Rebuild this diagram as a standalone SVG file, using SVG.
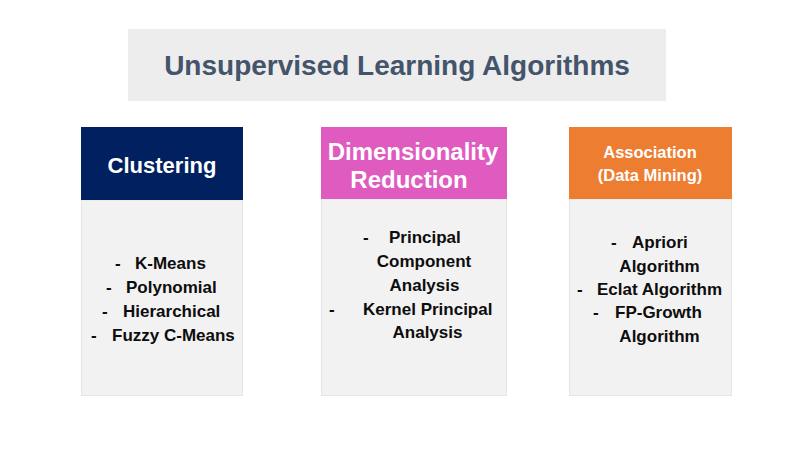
<svg xmlns="http://www.w3.org/2000/svg" width="800" height="450" viewBox="0 0 800 450">
<style>
.hdr{font-family:"Liberation Sans",Arial,sans-serif;font-weight:bold;fill:#ffffff;text-anchor:middle}
.item{font-family:"Liberation Sans",Arial,sans-serif;font-weight:bold;font-size:17px;fill:#0d0d0d}
.mid{text-anchor:middle}
.body{fill:#f2f2f2;stroke:#e4e4e4;stroke-width:1}
</style>
<rect x="0" y="0" width="800" height="450" fill="#ffffff"/>
<g id="title">
<rect x="128" y="29" width="538" height="72" fill="#ededed"/>
<text x="397" y="75" font-family="Liberation Sans, Arial, sans-serif" font-weight="bold" font-size="28" fill="#44546a" text-anchor="middle">Unsupervised Learning Algorithms</text>
</g>
<g id="connectors"></g>
<g id="clustering">
<rect class="body" x="81.5" y="200" width="161" height="195.5"/>
<rect x="81" y="127" width="162" height="73" fill="#002060"/>
<text class="hdr" x="162" y="173" font-size="22">Clustering</text>
<text class="item" x="115" y="269">-</text>
<text class="item" x="135" y="269">K-Means</text>
<text class="item" x="106" y="293">-</text>
<text class="item" x="126" y="293">Polynomial</text>
<text class="item" x="102" y="317">-</text>
<text class="item" x="123" y="317">Hierarchical</text>
<text class="item" x="91" y="341">-</text>
<text class="item" x="112" y="341">Fuzzy C-Means</text>
</g>
<g id="dimensionality">
<rect class="body" x="321.5" y="199" width="185" height="196.5"/>
<rect x="321" y="127" width="186" height="72" fill="#df5bbf"/>
<text class="hdr" x="413" y="160" font-size="24">Dimensionality</text>
<text class="hdr" x="409" y="188" font-size="24">Reduction</text>
<text class="item" x="363" y="243">-</text>
<text class="item" x="389" y="243">Principal</text>
<text class="item mid" x="424" y="267">Component</text>
<text class="item mid" x="424.5" y="291">Analysis</text>
<text class="item" x="329" y="315">-</text>
<text class="item" x="363" y="315">Kernel Principal</text>
<text class="item mid" x="427.5" y="338">Analysis</text>
</g>
<g id="association">
<rect class="body" x="569.5" y="199" width="162" height="196.5"/>
<rect x="569" y="127" width="163" height="72" fill="#ed7d31"/>
<text class="hdr" x="650" y="158" font-size="16.5">Association</text>
<text class="hdr" x="650" y="181" font-size="16.5">(Data Mining)</text>
<text class="item" x="611" y="248">-</text>
<text class="item" x="632" y="248">Apriori</text>
<text class="item mid" x="659.5" y="272">Algorithm</text>
<text class="item" x="577" y="295">-</text>
<text class="item" x="597" y="295">Eclat Algorithm</text>
<text class="item" x="593" y="318">-</text>
<text class="item" x="615" y="318">FP-Growth</text>
<text class="item mid" x="659.5" y="342">Algorithm</text>
</g>
</svg>
